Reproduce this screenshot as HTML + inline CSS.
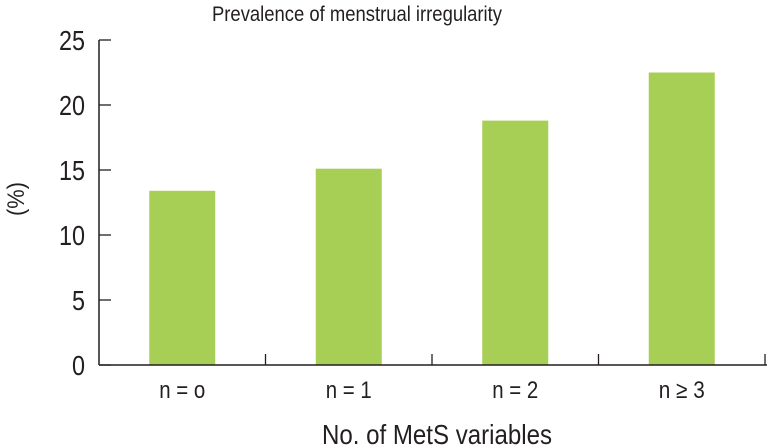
<!DOCTYPE html>
<html><head><meta charset="utf-8"><style>
html,body{margin:0;padding:0;background:#fff;}
svg{display:block;font-family:"Liberation Sans",sans-serif;}
</style></head><body>
<svg id="chart" width="767" height="447" viewBox="0 0 767 447" xmlns="http://www.w3.org/2000/svg">
<text x="212" y="21" font-size="21" textLength="290" lengthAdjust="spacingAndGlyphs" fill="#231f20">Prevalence of menstrual irregularity</text>
<text transform="translate(24,199) rotate(-90)" text-anchor="middle" font-size="24" textLength="34" lengthAdjust="spacingAndGlyphs" fill="#231f20">(%)</text>
<text x="322" y="444" font-size="28" textLength="230" lengthAdjust="spacingAndGlyphs" fill="#231f20">No. of MetS variables</text>
<g id="marks"></g>
</svg>
<script>
const categories = ["n = o", "n = 1", "n = 2", "n \u2265 3"];
const values = [13.4, 15.1, 18.8, 22.5];
const yTicks = [0, 5, 10, 15, 20, 25];
const yTickLabels = ["0", "5", "10", "15", "20", "25"];

const NS = "http://www.w3.org/2000/svg";
const X0 = 99, X1 = 765, Y0 = 365, YMAX = 25, YTOP = 40;
const band = (X1 - X0) / categories.length;
const yScale = v => Y0 - (v / YMAX) * (Y0 - YTOP);
const xBand = i => X0 + i * band;
const barW = 66;
const g = document.getElementById("marks");
function mk(tag, attrs) { const e = document.createElementNS(NS, tag); for (const k in attrs) e.setAttribute(k, attrs[k]); g.appendChild(e); return e; }

values.forEach((v, i) => {
  const r = mk("rect", {x: xBand(i) + band/2 - barW/2, y: yScale(v), width: barW, height: Y0 - yScale(v), fill: "#a8cf55"});
  
  
});
yTicks.forEach((t, i) => {
  const y = yScale(t);
  const l = mk("line", {x1: X0, x2: X0 + 12, y1: y, y2: y, stroke: "#231f20", "stroke-width": 1.3});
  
  
  const lab = yTickLabels[i];
  const tx = mk("text", {x: 85, y: y + 10, "text-anchor": "end", "font-size": 28, fill: "#231f20", textLength: lab.length * 13, lengthAdjust: "spacingAndGlyphs"});
  tx.textContent = lab;
  
  
});
categories.forEach((c, i) => {
  const xe = xBand(i + 1);
  const l = mk("line", {x1: xe, x2: xe, y1: Y0, y2: Y0 - 11, stroke: "#231f20", "stroke-width": 1.3});
  
  
  const tx = mk("text", {x: xBand(i) + band/2, y: 398, "text-anchor": "middle", "font-size": 24, fill: "#231f20", textLength: 46, lengthAdjust: "spacingAndGlyphs"});
  tx.textContent = c;
  
  
});
const ya = mk("line", {x1: X0, x2: X0, y1: YTOP, y2: Y0, stroke: "#231f20", "stroke-width": 1.5});


const xa = mk("line", {x1: X0, x2: X1 + 2, y1: Y0, y2: Y0, stroke: "#231f20", "stroke-width": 1.5});


</script>
</body></html>
